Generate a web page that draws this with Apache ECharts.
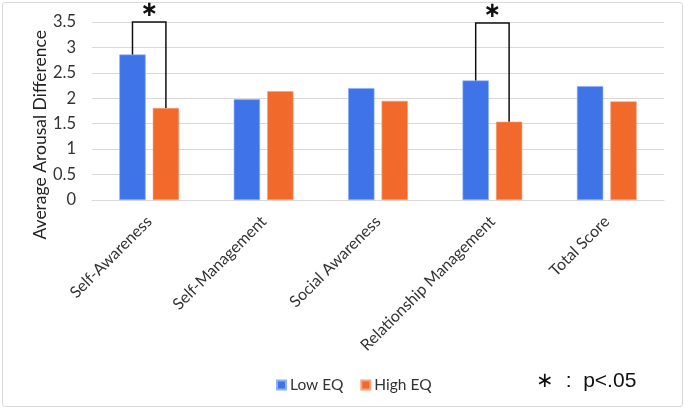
<!DOCTYPE html>
<html>
<head>
<meta charset="utf-8">
<script src="https://cdn.jsdelivr.net/npm/echarts@6/dist/echarts.min.js"></script>
<style>
html,body{margin:0;padding:0;background:#fff;}
#frame{position:absolute;left:2px;top:2px;width:679px;height:403px;border:1px solid #d9d9d9;border-radius:3px;}
#chart{position:absolute;left:0;top:0;width:685px;height:409px;}
</style>
</head>
<body>
<div id="frame"></div>
<div id="chart"></div>
<script>
const categories = ['Self-Awareness', 'Self-Management', 'Social Awareness', 'Relationship Management', 'Total Score'];
const lowEQ = [2.86, 1.98, 2.20, 2.35, 2.24];
const highEQ = [1.81, 2.14, 1.95, 1.54, 1.94];
const yTicks = { min: 0, max: 3.5, interval: 0.5 };
// significance brackets: [category index, bracket height]
const sigBrackets = [[0, 3.5], [3, 3.48]];

const FONT = 'Lato';
const chart = echarts.init(document.getElementById('chart'), null, { renderer: 'canvas' });

const barWidthFrac = 0.23, barGapFrac = 0.27;

const sigData = sigBrackets.map(b => [b[0], lowEQ[b[0]], highEQ[b[0]], b[1]]);

chart.setOption({
  animation: false,
  color: ['#3f74e8', '#f1692b'],
  grid: { left: 92, right: 21, top: 22, bottom: 209 },
  legend: {
    data: ['Low EQ', 'High EQ'],
    left: 271, top: 372,
    icon: 'rect', itemWidth: 9, itemHeight: 9, itemGap: 17,
    textStyle: { fontFamily: FONT, fontSize: 15.5, color: '#333', padding: [0, 0, 0, -1] }
  },
  xAxis: {
    type: 'category',
    data: categories,
    axisLine: { show: true, lineStyle: { color: '#d9d9d9', width: 1 } },
    axisTick: { show: false },
    axisLabel: { rotate: 45, margin: 19, fontFamily: FONT, fontSize: 16, color: '#333', interval: 0 }
  },
  yAxis: {
    type: 'value',
    min: yTicks.min, max: yTicks.max, interval: yTicks.interval,
    axisLine: { show: false },
    axisTick: { show: false },
    splitLine: { lineStyle: { color: '#d9d9d9', width: 1 } },
    axisLabel: { margin: 16, fontFamily: FONT, fontSize: 16.5, color: '#333' }
  },
  series: [
    { name: 'Low EQ', type: 'bar', data: lowEQ, barWidth: (barWidthFrac * 100) + '%', barGap: (barGapFrac * 100) + '%',
      itemStyle: { borderColor: '#8fb0f3', borderWidth: 0.6 } },
    { name: 'High EQ', type: 'bar', data: highEQ, barWidth: (barWidthFrac * 100) + '%', barGap: (barGapFrac * 100) + '%',
      itemStyle: { borderColor: '#f6a27c', borderWidth: 0.6 } },
    {
      type: 'custom',
      data: sigData,
      silent: true,
      z: 5,
      renderItem: function (params, api) {
        const idx = api.value(0);
        const center = api.coord([idx, 0]);
        const band = api.size([1, 0])[0];
        const bw = band * barWidthFrac;
        const off = (bw * 2 + bw * barGapFrac) / 2 - bw / 2;
        const xL = center[0] - off, xR = center[0] + off;
        const yL = api.coord([idx, api.value(1)])[1];
        const yR = api.coord([idx, api.value(2)])[1];
        const yT = api.coord([idx, api.value(3)])[1];
        return {
          type: 'group',
          children: [
            { type: 'polyline', shape: { points: [[xL, yL], [xL, yT], [xR, yT], [xR, yR]] },
              style: { stroke: '#111', lineWidth: 1.5, fill: null } },
            { type: 'text', style: { text: '∗', x: center[0], y: yT - 1, fontSize: 21, fontWeight: 'bold',
              fontFamily: 'DejaVu Sans', fill: '#111', align: 'center', verticalAlign: 'bottom' } }
          ]
        };
      }
    }
  ],
  graphic: [
    { type: 'text', left: 31, top: 30, rotation: Math.PI / 2,
      style: { text: 'Average Arousal Difference', fontFamily: FONT, fontSize: 17.5, fill: '#222' },
      originX: 0, originY: 0 },
    { type: 'text', left: 536, top: 371,
      style: { text: '∗  :  p<.05', fontFamily: 'Liberation Sans', fontSize: 21, fill: '#111' } }
  ]
});
</script>
</body>
</html>
